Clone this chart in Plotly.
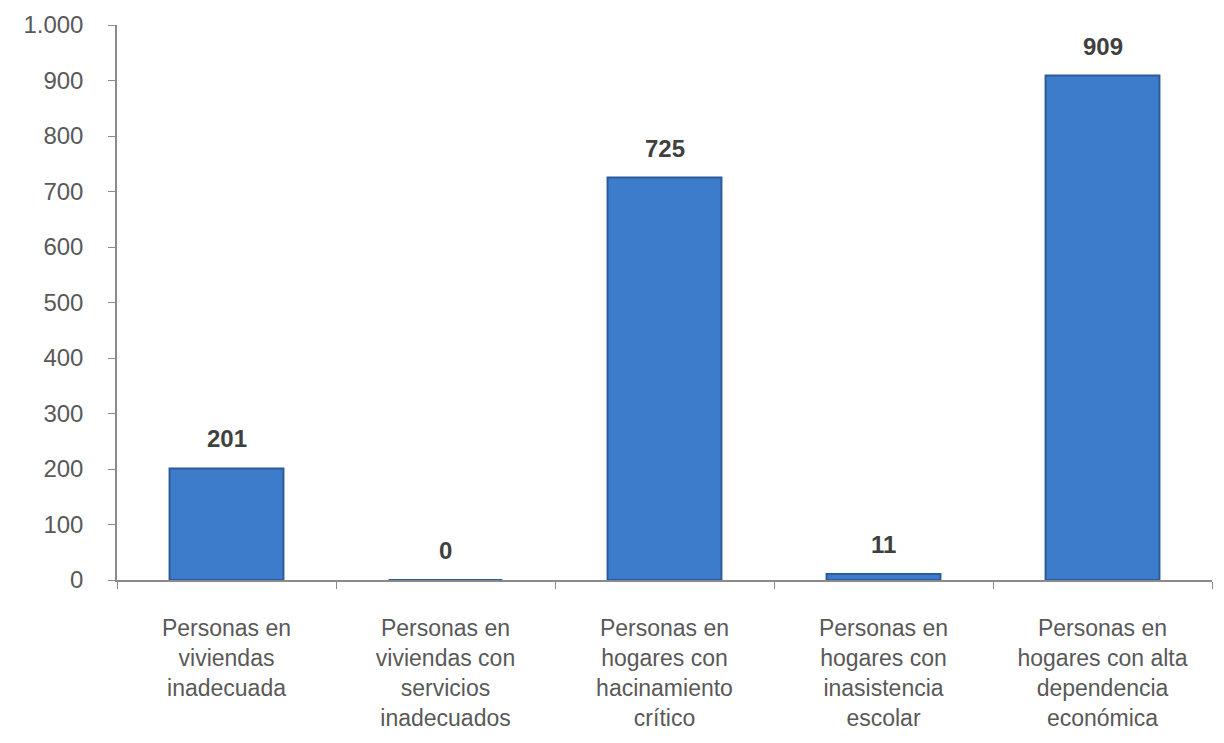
import plotly.graph_objects as go

categories = [
    "Personas en<br>viviendas<br>inadecuada",
    "Personas en<br>viviendas con<br>servicios<br>inadecuados",
    "Personas en<br>hogares con<br>hacinamiento<br>crítico",
    "Personas en<br>hogares con<br>inasistencia<br>escolar",
    "Personas en<br>hogares con alta<br>dependencia<br>económica",
]
values = [201, 0, 725, 11, 909]
tick_vals = [0, 100, 200, 300, 400, 500, 600, 700, 800, 900, 1000]
tick_text = ["0", "100", "200", "300", "400", "500", "600", "700", "800", "900", "1.000"]

fig = go.Figure()
fig.add_trace(go.Bar(
    x=categories, y=values,
    marker=dict(color="#3D7CCB", line=dict(color="#2B5B9A", width=2)),
    width=0.52,
    hoverinfo="x+y",
))

for c, v in zip(categories, values):
    fig.add_annotation(
        x=c, y=v, text=f"<b>{v}</b>", showarrow=False,
        yanchor="bottom", yshift=14,
        font=dict(family="Liberation Sans, Arial", size=24, color="#404040"),
    )

fig.update_layout(
    width=1216, height=735,
    margin=dict(l=109, r=12, t=17, b=163),
    plot_bgcolor="white", paper_bgcolor="white",
    showlegend=False,
    font=dict(family="Liberation Sans, Arial", size=22, color="#595959"),
)
fig.update_xaxes(
    showline=True, linecolor="#8A8A8A", linewidth=1.5,
    ticks="outside", tickson="boundaries", ticklen=7, tickcolor="#8A8A8A",
    tickfont=dict(size=23, color="#595959"),
    ticklabelstandoff=27,
    showgrid=False, automargin=False,
)
fig.update_yaxes(
    range=[0, 1000], tickvals=tick_vals, ticktext=tick_text,
    showline=True, linecolor="#8A8A8A", linewidth=1.5,
    ticks="outside", ticklen=7, tickcolor="#8A8A8A",
    tickfont=dict(size=24, color="#595959"),
    ticklabelstandoff=20,
    showgrid=False, zeroline=False, automargin=False,
)

fig.write_html("out.html")
